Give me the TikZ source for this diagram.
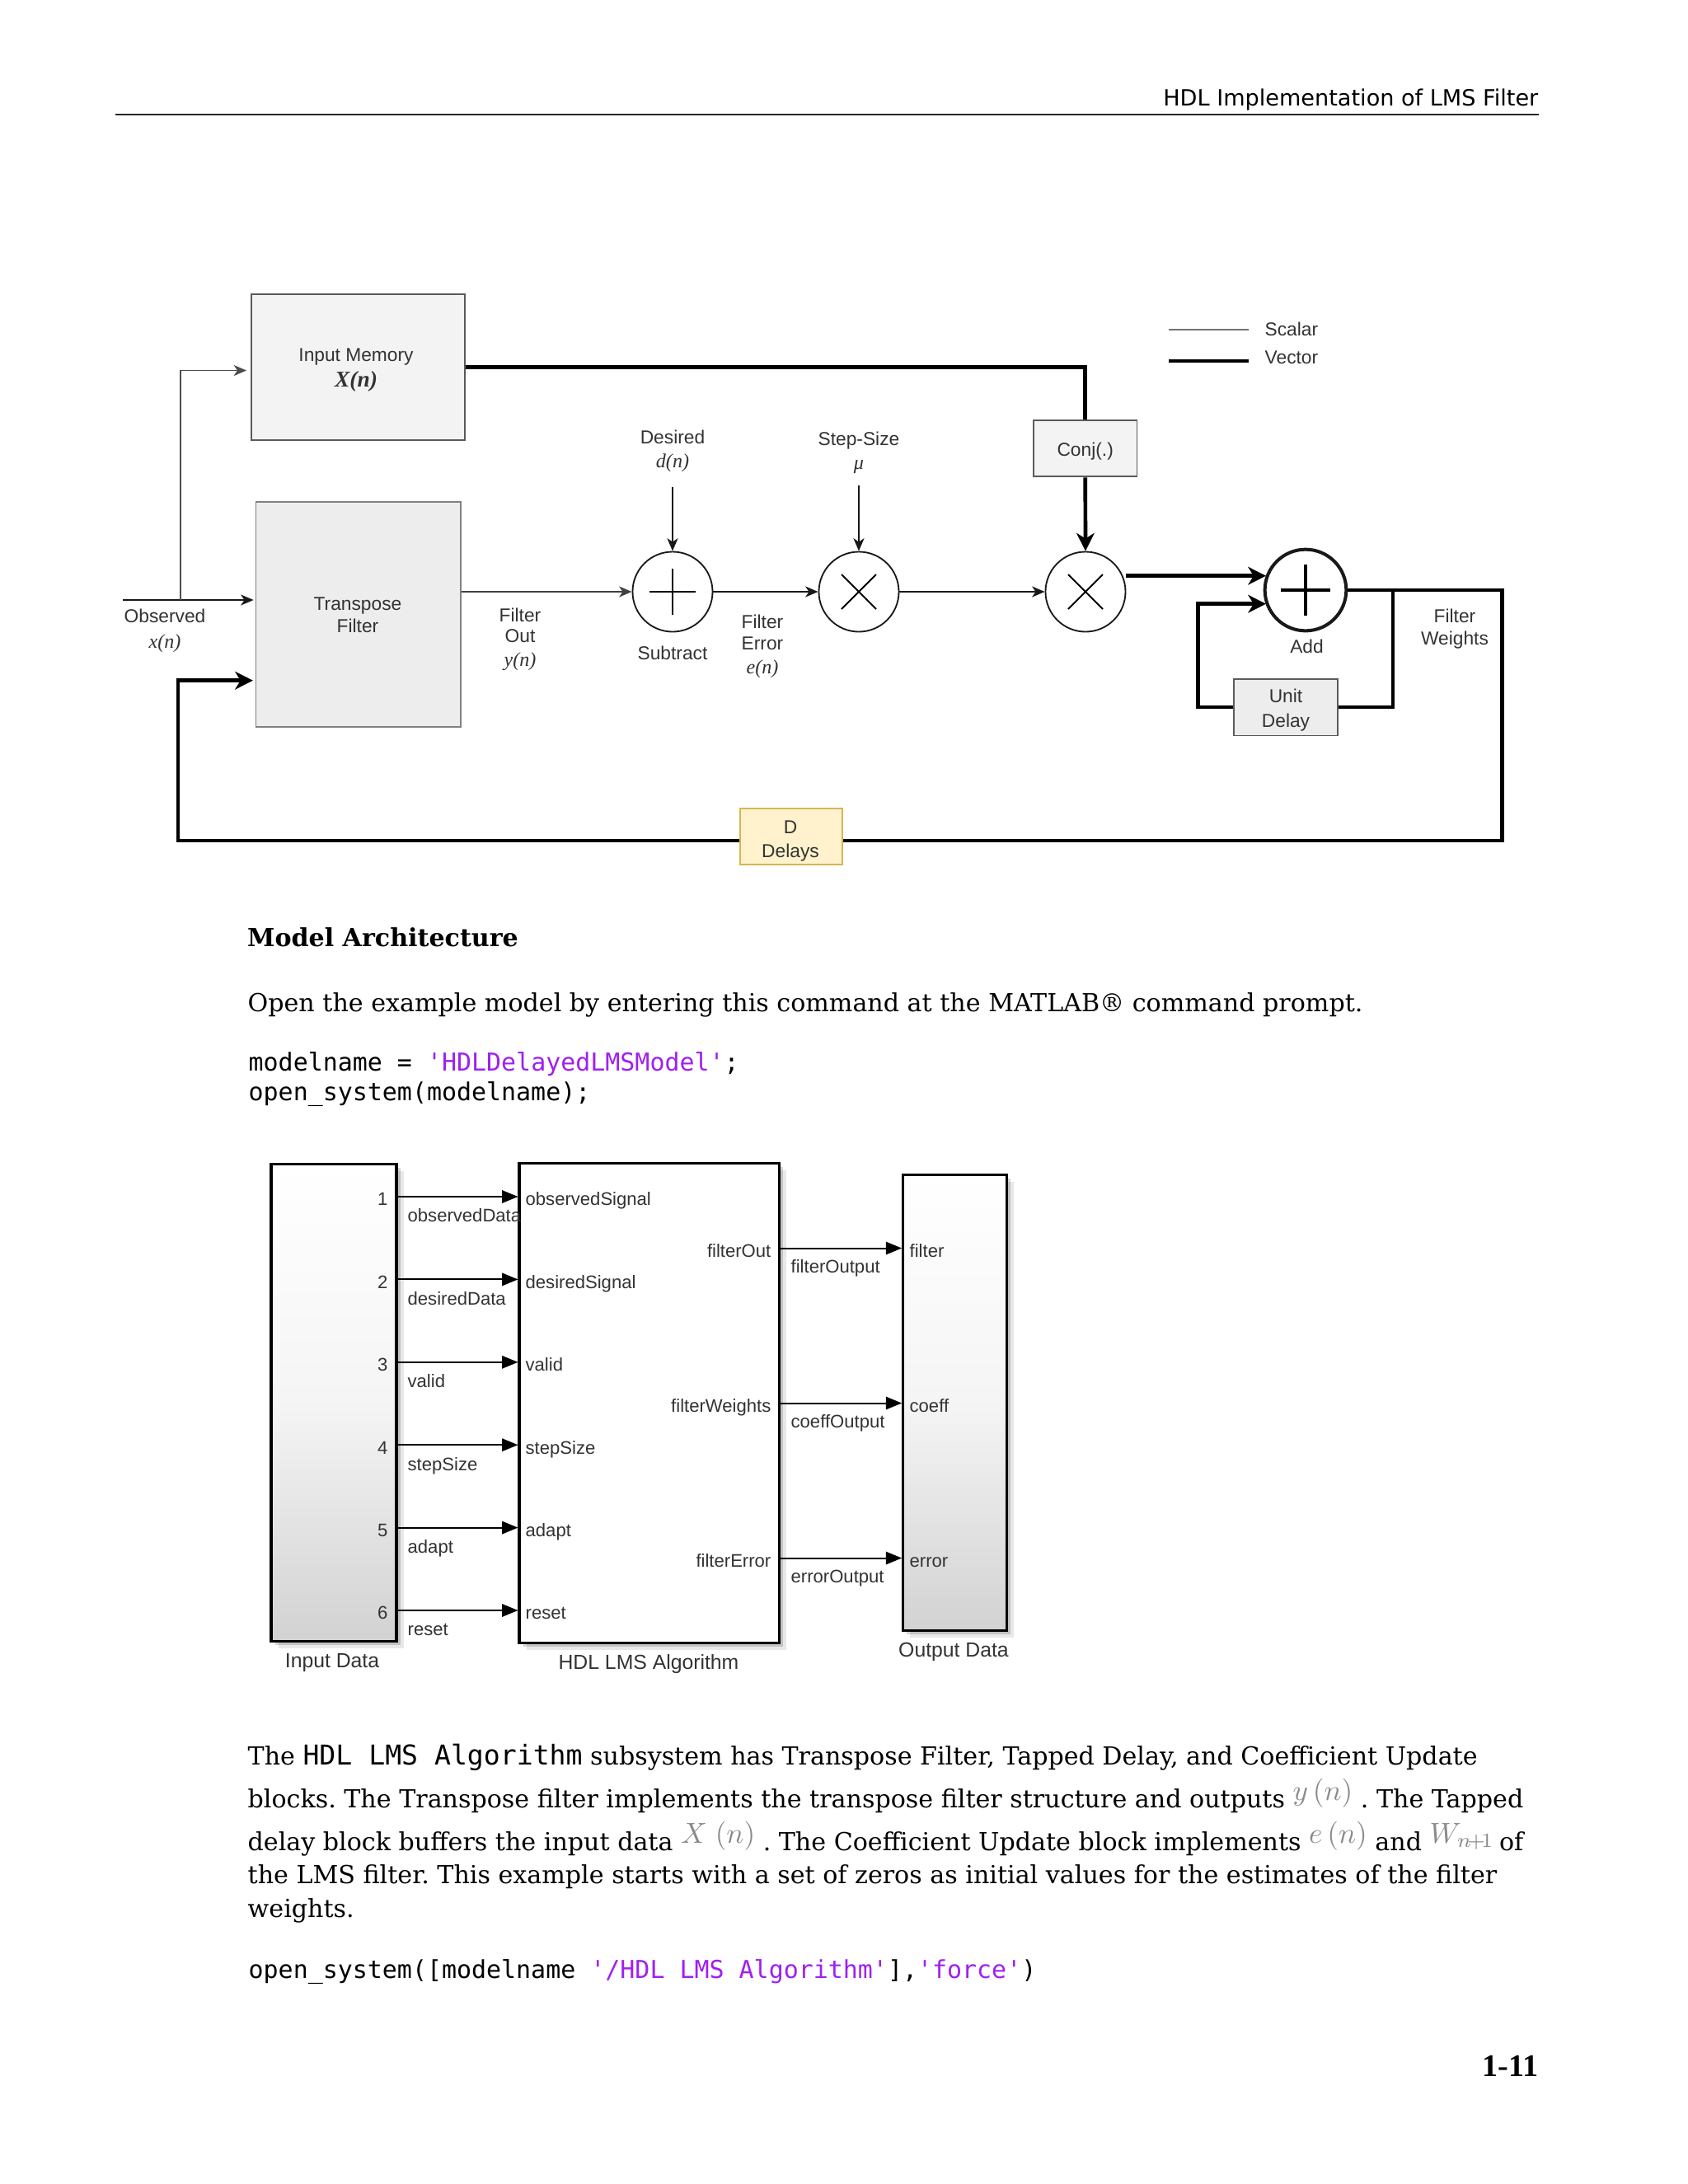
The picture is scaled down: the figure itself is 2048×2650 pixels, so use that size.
\documentclass[tikz,border=0pt]{standalone}
\usepackage{fix-cm}
\usepackage{fontspec}
\setmainfont{DejaVu Serif}
\setmonofont{DejaVu Sans Mono}
\newfontfamily\hdrfont{DejaVu Sans}
\newfontfamily\diafont{Liberation Sans}
\newfontfamily\diaserif{Liberation Serif}
\usetikzlibrary{arrows.meta,shadows,calc,fit}
\frenchspacing
\definecolor{txtgray}{HTML}{333333}
\definecolor{boxfill}{HTML}{F3F3F3}
\definecolor{boxfillb}{HTML}{EDEDED}
\definecolor{boxline}{HTML}{5A5A5A}
\definecolor{ddfill}{HTML}{FFF2CC}
\definecolor{ddline}{HTML}{D6B656}
\definecolor{mstr}{HTML}{A020F0}
\definecolor{mathgray}{HTML}{8A8A8A}
\definecolor{slgray}{HTML}{D2D2D2}
\newcommand\dfont{\diafont\fontsize{6.8}{8.5}\selectfont}
\newcommand\dmath{\diaserif\itshape\fontsize{7.2}{8.5}\selectfont}
\newcommand\slfont{\diafont\fontsize{6.6}{8}\selectfont}
\newcommand\sltitlefont{\diafont\fontsize{7.4}{9}\selectfont}
\newcommand\inl{\ttfamily\fontsize{9.9}{11}\selectfont}
\newcommand\mimg[1]{\raisebox{2.5pt}{\textcolor{mathgray}{\fontsize{10.5}{12}\selectfont$#1$}}}
\begin{document}
\begin{tikzpicture}[x=0.29883pt,y=-0.29883pt,
  sline/.style={line width=0.55pt, draw=black!90},
  sarrow/.style={sline, -{Stealth[length=4.6pt,width=3.9pt,inset=1.3pt]}},
  vline/.style={line width=1.4pt, draw=black},
  varrow/.style={vline, -{Stealth[length=6.5pt,width=6.5pt,inset=2pt]}},
  dbox/.style={draw=boxline, line width=0.55pt, fill=boxfill, inner sep=0pt},
  dtxt/.style={font=\dfont, text=txtgray, inner sep=0pt, text height=1.5ex, text depth=0.25ex},
  dmt/.style={font=\dmath, text=txtgray, inner sep=0pt, text height=1.5ex, text depth=0.25ex},
  opcirc/.style={circle, draw=black!90, line width=0.55pt, minimum size=29pt, inner sep=0pt},
  slshadow/.style={drop shadow={shadow xshift=1.4pt,shadow yshift=-1.4pt,opacity=0.16,fill=black},
                   drop shadow={shadow xshift=2.6pt,shadow yshift=-2.6pt,opacity=0.09,fill=black}},
  slbox/.style={draw=black, line width=0.9pt, inner sep=0pt, slshadow},
  slarrow/.style={line width=0.6pt, draw=black, -{Triangle[length=5.8pt,width=4.6pt]}},
  sltxt/.style={font=\slfont, text=txtgray, inner sep=0pt, text height=1.5ex, text depth=0.25ex},
  sltitle/.style={font=\sltitlefont, text=txtgray, inner sep=0pt, text height=1.5ex, text depth=0.25ex},
  ptxt/.style={anchor=base west, inner sep=0pt, font=\fontsize{9}{11}\selectfont},
  codet/.style={anchor=base west, inner sep=0pt, font=\ttfamily\fontsize{8.95}{10}\selectfont}]

\path[use as bounding box, fill=white] (0,0) rectangle (2048,2650);

% ---------- page header ----------
\node[anchor=base east, inner sep=0pt, font=\hdrfont\fontsize{8.1}{10}\selectfont] (hdr) at (1867,128.3) {HDL Implementation of LMS Filter};
\coordinate (rl) at (140,139);
\coordinate (rr) at (1867,139);
\draw[line width=0.5pt, black!85] (rl) -- (rr);

% ---------- LMS block diagram ----------
\node[dbox, fit={(305,357)(564,534)}] (im) {};
\node[dtxt] (imt1) at (432,428) {Input Memory};
\node[dmt, font=\diaserif\itshape\bfseries\fontsize{8.2}{9}\selectfont] (imt2) at (432,459) {X(n)};

\node[dbox, fill=boxfillb, draw=black!50, fit={(310.5,609)(558.6,882)}] (tf) {};
\node[dtxt] (tft1) at (434,730) {Transpose};
\node[dtxt] (tft2) at (434,757) {Filter};

\node[opcirc] (sub) at (816,718) {};
\node[opcirc] (m1) at (1042,718) {};
\node[opcirc] (m2) at (1317,718) {};
\node[opcirc, line width=1.2pt, minimum size=29.5pt] (add) at (1584,716) {};

\draw[line width=0.55pt] ($(sub.center)+(-28,0)$) -- ($(sub.center)+(28,0)$);
\draw[line width=0.55pt] ($(sub.center)+(0,-28)$) -- ($(sub.center)+(0,28)$);
\draw[line width=0.55pt] ($(m1.center)+(-21,-21)$) -- ($(m1.center)+(21,21)$);
\draw[line width=0.55pt] ($(m1.center)+(-21,21)$) -- ($(m1.center)+(21,-21)$);
\draw[line width=0.55pt] ($(m2.center)+(-21,-21)$) -- ($(m2.center)+(21,21)$);
\draw[line width=0.55pt] ($(m2.center)+(-21,21)$) -- ($(m2.center)+(21,-21)$);
\draw[line width=1.2pt] ($(add.center)+(-30,0)$) -- ($(add.center)+(30,0)$);
\draw[line width=1.2pt] ($(add.center)+(0,-31)$) -- ($(add.center)+(0,31)$);

\node[dbox, fit={(1254,510)(1379.5,578.4)}] (cj) {};
\node[dtxt] (cjt) at (1316.7,543) {Conj(.)};
\node[dbox, fill=boxfillb, fit={(1497,823.6)(1623,892.4)}] (ud) {};
\node[dtxt] (udt1) at (1560,842) {Unit};
\node[dtxt] (udt2) at (1560,872) {Delay};
\node[dbox, fill=ddfill, draw=ddline, fit={(898,981)(1021.6,1049)}] (dd) {};
\node[dtxt] (ddt1) at (959,1001) {D};
\node[dtxt] (ddt2) at (959,1029.5) {Delays};

% labels
\node[dtxt] (obt1) at (200,745) {Observed};
\node[dmt] (obt2) at (200,776) {x(n)};
\node[dtxt] (fot1) at (631,744) {Filter};
\node[dtxt] (fot2) at (631,769) {Out};
\node[dmt] (fot3) at (631,798) {y(n)};
\node[dtxt] (subt) at (816,790) {Subtract};
\node[dtxt] (dst1) at (816,528) {Desired};
\node[dmt] (dst2) at (816,557) {d(n)};
\node[dtxt] (fet1) at (925,751.5) {Filter};
\node[dtxt] (fet2) at (925,778) {Error};
\node[dmt] (fet3) at (925,807) {e(n)};
\node[dtxt] (sst1) at (1042,529.5) {Step-Size};
\node[dmt] (sst2) at (1042,559) {μ};
\node[dtxt] (addt) at (1585.5,782) {Add};
\node[dtxt] (fwt1) at (1765,745) {Filter};
\node[dtxt] (fwt2) at (1765,772) {Weights};

% connectors
\coordinate (obsL) at (149,728);
\coordinate (obsB) at (219,728);
\coordinate (imin) at (219,449.5);
\draw[sarrow, shorten >=0.6pt] (obsL) -- (tf.west |- obsL);
\draw[sarrow, draw=black!70, shorten >=1.5pt] (obsB) -- (imin) -- (im.west |- imin);

\draw[vline] (im.east) -| (cj.north);
\draw[varrow] (cj.south) -- (m2.north);

\draw[sarrow, draw=black!75] (tf.east |- sub.west) -- (sub.west);
\draw[sarrow] (sub.east) -- (m1.west);
\draw[sarrow] (m1.east) -- (m2.west);
\coordinate (dtop) at (816,591);
\draw[sarrow] (dtop) -- (sub.north);
\coordinate (stop) at (1042,589);
\draw[sarrow] (stop) -- (m1.north);

\coordinate (addin1) at ($(add.center)+(-48,-17.3)$);
\coordinate (addin2) at ($(add.center)+(-48,16.7)$);
\draw[varrow] (m2.east |- addin1) -- (addin1);

\coordinate (ubr) at (1690,716);
\coordinate (ubb) at (1690,858);
\draw[vline] (ubr) -- (ubb) -- (ud.east |- ubb);
\coordinate (ulb) at (1453.5,858);
\coordinate (ult) at (1453.5,732.7);
\draw[varrow] (ud.west |- ulb) -- (ulb) -- (ult) -- (addin2);

\coordinate (fwR) at (1822.6,716);
\coordinate (fwB) at (1822.6,1020);
\coordinate (fbB) at (216,1020);
\coordinate (fbT) at (216,825.7);
\draw[vline] (add.east) -- (fwR) -- (fwB) -- (dd.east |- fwB);
\draw[varrow, shorten >=0.8pt] (dd.west |- fbB) -- (fbB) -- (fbT) -- (tf.west |- fbT);

% legend
\coordinate (lg1a) at (1418,400);
\coordinate (lg1b) at (1515,400);
\coordinate (lg2a) at (1418,438);
\coordinate (lg2b) at (1515,438);
\draw[line width=0.6pt, draw=black!55] (lg1a) -- (lg1b);
\draw[vline] (lg2a) -- (lg2b);
\node[dtxt, anchor=west] (lgs) at (1534,396.5) {Scalar};
\node[dtxt, anchor=west] (lgv) at (1534,430.5) {Vector};

% ---------- text ----------
\node[ptxt, font=\bfseries\fontsize{9.0}{11}\selectfont] (h1) at (299.5,1148.3) {Model Architecture};
\node[ptxt] (p1) at (300,1227.7) {Open the example model by entering this command at the MATLAB® command prompt.};
\node[codet] (c1) at (301,1299.3) {modelname = \textcolor{mstr}{'HDLDelayedLMSModel'};};
\node[codet] (c2) at (301,1335) {open\_system(modelname);};

% ---------- Simulink model ----------
\node[slbox, fit={(329,1412.5)(481,1991.5)}, top color=white, bottom color=slgray, middle color=white!96!black] (indat) {};
\node[slbox, fill=white, fit={(630,1411)(945,1993.6)}] (hdl) {};
\node[slbox, fit={(1095.7,1425.5)(1221.7,1978.4)}, top color=white, bottom color=slgray, middle color=white!96!black] (outd) {};

\foreach \n/\src/\dst in {1/observedData/observedSignal,2/desiredData/desiredSignal,3/valid/valid,4/stepSize/stepSize,5/adapt/adapt,6/reset/reset}{
  \pgfmathsetmacro\yy{1452+100.4*(\n-1)}
  \coordinate (pin\n) at (481,\yy);
  \draw[slarrow] (pin\n) -- (hdl.west |- pin\n);
  \node[sltxt, anchor=east] (pn\n) at (471,\yy) {\n};
  \node[sltxt, anchor=west] (pl\n) at (494,\yy+20) {\src};
  \node[sltxt, anchor=west] (pi\n) at (637,\yy) {\dst};
}
\foreach \n/\src/\lab/\dst in {1/filterOut/filterOutput/filter,2/filterWeights/coeffOutput/coeff,3/filterError/errorOutput/error}{
  \pgfmathsetmacro\yy{1514.5+188*(\n-1)}
  \coordinate (po\n) at (945,\yy);
  \draw[slarrow] (po\n) -- (outd.west |- po\n);
  \node[sltxt, anchor=east] (ps\n) at (936,\yy) {\src};
  \node[sltxt, anchor=west] (pol\n) at (959,\yy+19) {\lab};
  \node[sltxt, anchor=west] (poi\n) at (1103,\yy) {\dst};
}
\node[sltitle] (tin) at (403,2013) {Input Data};
\node[sltitle] (thdl) at (787,2015) {HDL LMS Algorithm};
\node[sltitle] (tout) at (1157,2000) {Output Data};

% ---------- paragraph ----------
\node[ptxt] (q1) at (300,2141.7) {The {\inl HDL LMS Algorithm} subsystem has Transpose Filter, Tapped Delay, and Coefficient Update};
\node[ptxt] (q2) at (300,2193) {blocks. The Transpose filter implements the transpose filter structure and outputs \mimg{y\,(n)} . The Tapped};
\node[ptxt] (q3) at (300,2245) {delay block buffers the input data \mimg{X\;(n)} . The Coefficient Update block implements \mimg{e\,(n)} and \mimg{W_{n\!+\!1}}\kern-1pt{} of};
\node[ptxt] (q4) at (300,2285) {the LMS filter. This example starts with a set of zeros as initial values for the estimates of the filter};
\node[ptxt] (q5) at (300,2326) {weights.};
\node[codet] (c3) at (301,2400) {open\_system([modelname \textcolor{mstr}{'/HDL LMS Algorithm'}],\textcolor{mstr}{'force'})};

\node[anchor=base east, inner sep=0pt, font=\diaserif\bfseries\fontsize{11.4}{13}\selectfont] (pg) at (1867,2519) {1-11};
\end{tikzpicture}
\end{document}
